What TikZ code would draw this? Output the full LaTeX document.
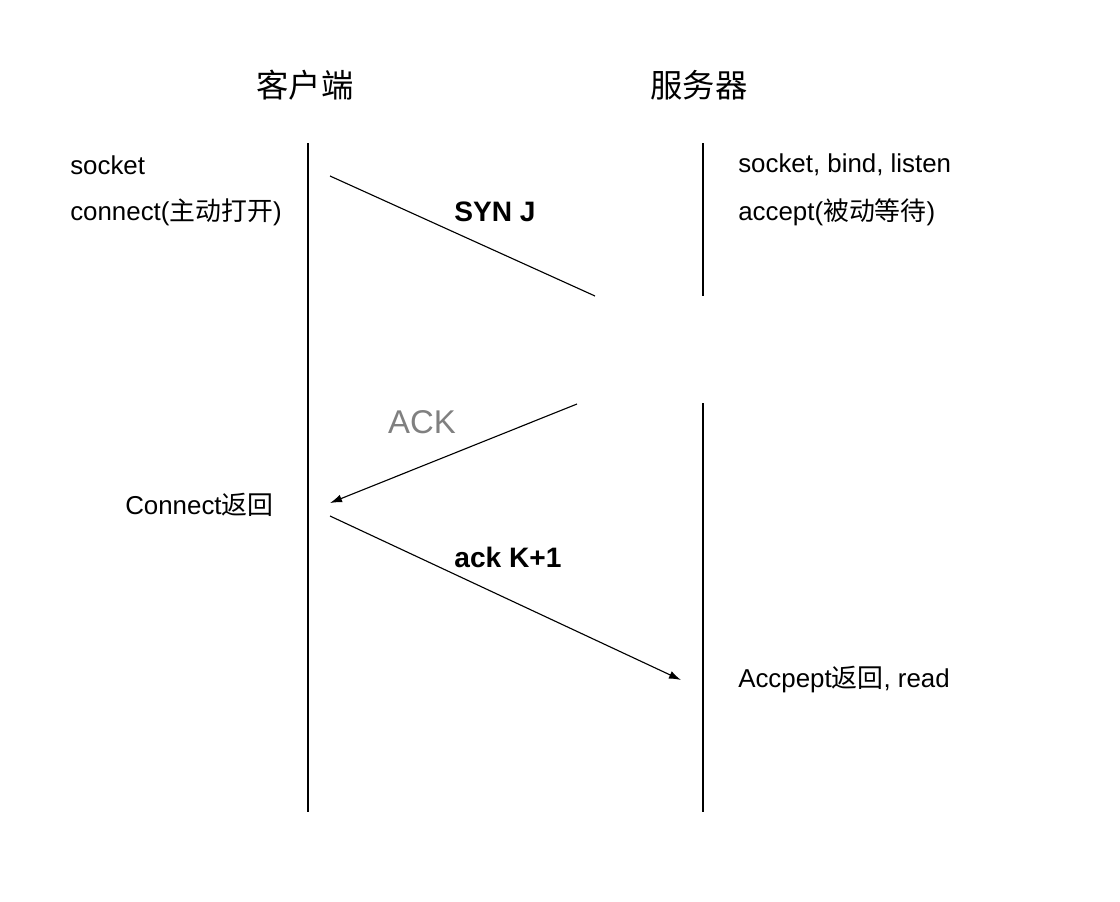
\documentclass[tikz,border=0pt]{standalone}
\usepackage{fontspec}
\setmainfont{Liberation Sans}
\newfontfamily\cjk{Noto Sans CJK SC}
\usetikzlibrary{calc,arrows.meta}

\tikzset{
  lbl/.style={anchor=west,inner sep=0pt,font=\fontsize{18.4}{20}\selectfont},
  msg/.style={inner sep=0pt,font=\fontsize{20}{22}\bfseries\selectfont},
  side/.style={inner sep=0pt,font=\fontsize{23}{25}\selectfont\cjk}
}

\begin{document}
\begin{tikzpicture}[x=0.025cm,y=-0.025cm]
\useasboundingbox (0,0) rectangle (1120,902);

% titles
\node[side] (client) at (305,85) {客户端};
\node[side] (server) at (699,85) {服务器};

% time lines
\coordinate (c top) at (308,143);
\coordinate (c bot) at (308,812);
\coordinate (s top) at (703,143);
\coordinate (s gap1) at (703,296);
\coordinate (s gap2) at (703,403);
\coordinate (s bot) at (703,812);
\draw[thick] (c top)--(c bot);
\draw[thick] (s top)--(s gap1);
\draw[thick] (s gap2)--(s bot);

% texts
\node[lbl] (sock) at (70,165) {socket};
\node[lbl] (conn) at (70,212) {connect({\cjk 主动打开})};
\node[lbl] (listen) at (738,165) {socket, bind, listen};
\node[lbl] (acc) at (738,212) {accept({\cjk 被动等待})};
\node[lbl] (cret) at (125,505) {Connect{\cjk 返回}};
\node[lbl] (aret) at (738,680) {Accpept{\cjk 返回}, read};

% messages
\coordinate (syn a) at (330,176);
\coordinate (syn b) at (595,296);
\coordinate (ack a) at (577,404);
\coordinate (ack b) at (330,503);
\coordinate (k a) at (330,516);
\coordinate (k b) at (681,680);

\draw[thick] (syn a)--(syn b);
\draw[->,>={Latex[length=3mm,width=2mm]},thick] (ack a)--(ack b);
\draw[->,>={Latex[length=3mm,width=2mm]},thick] (k a)--(k b);

\node[msg] (syn) at (495,212) {SYN J};
\node[inner sep=0pt,font=\fontsize{23.4}{25}\selectfont,text=gray] (ack) at (422,422) {ACK};
\node[msg] (ackk) at (508,557) {ack K+1};

\end{tikzpicture}
\end{document}
